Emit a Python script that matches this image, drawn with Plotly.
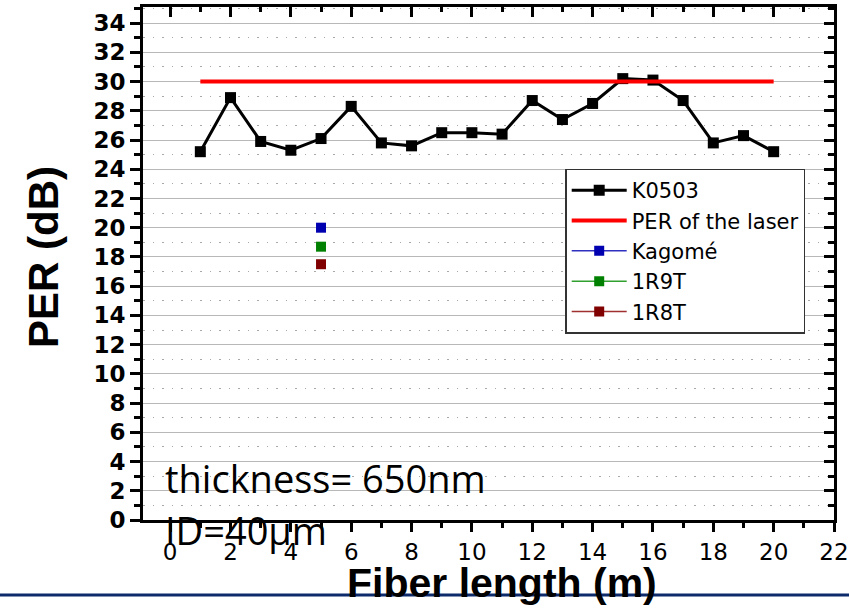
import plotly.graph_objects as go

length_m = list(range(1, 21))
k0503 = [25.2, 28.9, 25.9, 25.3, 26.1, 28.3, 25.8, 25.6, 26.5, 26.5,
         26.4, 28.7, 27.4, 28.5, 30.2, 30.1, 28.7, 25.8, 26.3, 25.2]
laser_x = [1, 20]
laser_per = [30, 30]
single_x = [5]
kagome = [20.0]
r9t = [18.7]
r8t = [17.5]

x_ticks = list(range(0, 23, 2))
y_ticks = list(range(0, 35, 2))

fig = go.Figure()
fig.add_trace(go.Scatter(x=length_m, y=k0503, mode="lines+markers", name="K0503",
                         line=dict(color="black", width=3),
                         marker=dict(symbol="square", size=11, color="black")))
fig.add_trace(go.Scatter(x=laser_x, y=laser_per, mode="lines", name="PER of the laser",
                         line=dict(color="#ff0000", width=4)))
fig.add_trace(go.Scatter(x=single_x, y=kagome, mode="lines+markers", name="Kagomé",
                         line=dict(color="#3030c0", width=1.5),
                         marker=dict(symbol="square", size=10, color="#0000b0")))
fig.add_trace(go.Scatter(x=single_x, y=r9t, mode="lines+markers", name="1R9T",
                         line=dict(color="#30a030", width=1.5),
                         marker=dict(symbol="square", size=10, color="#008000")))
fig.add_trace(go.Scatter(x=single_x, y=r8t, mode="lines+markers", name="1R8T",
                         line=dict(color="#a03030", width=1.5),
                         marker=dict(symbol="square", size=10, color="#800000")))
# helper trace for the mirrored (top/right) axes
fig.add_trace(go.Scatter(x=laser_x, y=laser_per, mode="lines", xaxis="x2", yaxis="y2",
                         showlegend=False, hoverinfo="skip", opacity=0))

xr = [-0.9, 22]
yr = [0, 35.1]
font_fam = "Liberation Sans, Arial"
tick_fam = "DejaVu Sans"

fig.update_layout(
    width=849, height=611,
    margin=dict(l=143, r=15, t=7, b=91, autoexpand=False),
    paper_bgcolor="white", plot_bgcolor="white",
    showlegend=True,
    legend=dict(x=0.611, y=0.685, xanchor="left", yanchor="top",
                bgcolor="white", bordercolor="#333333", borderwidth=1.5,
                font=dict(family=tick_fam, size=21, color="black"),
                itemwidth=55, tracegroupgap=0),
    xaxis=dict(range=xr, tickvals=x_ticks, ticks="outside", ticklen=9, tickwidth=2.5,
               tickcolor="black", showline=True, linecolor="black", linewidth=3,
               showgrid=False, zeroline=False, automargin=False, ticklabeloverflow="allow",
               tickfont=dict(family=tick_fam, size=23, color="black"),
               minor=dict(dtick=1, ticks="outside", ticklen=5, tickwidth=2.5, tickcolor="black", showgrid=False)),
    yaxis=dict(range=yr, tickvals=y_ticks, ticks="outside", ticklen=10, tickwidth=3,
               tickcolor="black", showline=True, linecolor="black", linewidth=3,
               showgrid=True, gridcolor="#b8b8b8", gridwidth=1.3, zeroline=False, automargin=False,
               tickfont=dict(family=tick_fam, size=23, color="black", weight="bold"),
               minor=dict(dtick=1, tick0=1, ticks="outside", ticklen=6, tickwidth=2.5, tickcolor="black",
                          showgrid=True, gridcolor="#a8a8a8", gridwidth=1.2, griddash="1.5px,8px")),
    xaxis2=dict(range=xr, overlaying="x", side="top", anchor="y2", tickvals=x_ticks,
                ticks="inside", ticklen=10, tickwidth=2.5, tickcolor="black", showticklabels=False,
                showline=True, linecolor="black", linewidth=3, showgrid=False, zeroline=False,
                minor=dict(dtick=1, ticks="inside", ticklen=5, tickwidth=2.5, tickcolor="black", showgrid=False)),
    yaxis2=dict(range=yr, overlaying="y", side="right", anchor="x2", tickvals=y_ticks,
                ticks="inside", ticklen=10, tickwidth=3, tickcolor="black", showticklabels=False,
                showline=True, linecolor="black", linewidth=3, showgrid=False, zeroline=False,
                minor=dict(dtick=1, tick0=1, ticks="inside", ticklen=6, tickwidth=2.5, tickcolor="black", showgrid=False)),
    annotations=[
        dict(text="PER (dB)", xref="paper", yref="paper", x=(43 - 143) / 691, y=(520 - 257) / 513,
             showarrow=False, textangle=-90, xanchor="center", yanchor="middle",
             font=dict(family=font_fam, size=42, color="black", weight="bold")),
        dict(text="Fiber length (m)", xref="paper", yref="paper", x=(502 - 143) / 691, y=(520 - 583) / 513,
             showarrow=False, xanchor="center", yanchor="middle",
             font=dict(family=font_fam, size=41, color="black", weight="bold")),
        dict(text="thickness= 650nm", xref="paper", yref="paper", x=(163 - 143) / 691, y=(520 - 478) / 513,
             showarrow=False, xanchor="left", yanchor="middle",
             font=dict(family="Open Sans", size=38, color="black")),
        dict(text="ID=40μm", xref="paper", yref="paper", x=(163 - 143) / 691, y=(520 - 530) / 513,
             showarrow=False, xanchor="left", yanchor="middle",
             font=dict(family="Open Sans", size=38, color="black")),
    ],
    shapes=[
        dict(type="line", xref="paper", yref="paper", x0=-0.3, x1=1.1,
             y0=(520 - 595) / 513, y1=(520 - 595) / 513,
             line=dict(color="#0d2a6b", width=3), layer="above"),
    ],
)

fig.write_html("out.html")
